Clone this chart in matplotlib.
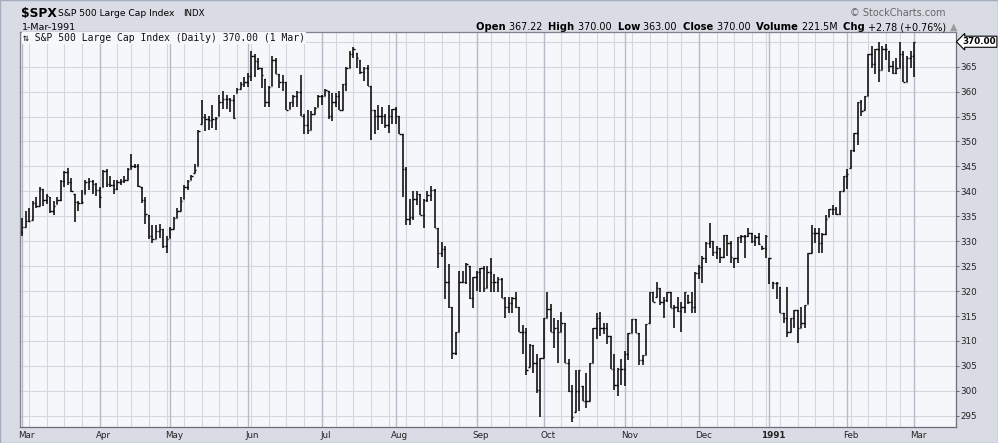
import numpy as np
import pandas as pd
import matplotlib
matplotlib.use('Agg')
import matplotlib.pyplot as plt
from matplotlib.patches import Rectangle

# trading days, 1-Mar-1990 .. 1-Mar-1991
holidays = ['1990-04-13', '1990-05-28', '1990-07-04', '1990-09-03',
            '1990-11-22', '1990-12-25', '1991-01-01', '1991-02-18']
dates = pd.bdate_range('1990-03-01', '1991-03-01')
dates = dates[~dates.isin(pd.to_datetime(holidays))]

# daily OHLC, month by month (Mar 90 ... Mar 91)
opens = [
    331.9, 332.8, 334.0, 334.2, 337.7, 337.0, 340.5, 338.2, 338.8, 336.1, 337.4, 338.2, 342.1, 343.8, 341.8, 339.5, 337.9, 337.6, 339.5, 341.8, 342.1, 341.5,
    340.3, 340.9, 344.0, 341.4, 341.3, 340.5, 341.8, 342.1, 342.3, 344.5, 345.1, 345.1, 340.9, 338.2, 335.3, 331.1, 330.4, 332.1, 332.5, 329.0,
    330.7, 332.5, 334.6, 336.0, 338.4, 340.9, 342.3, 343.7, 345.1, 353.5, 355.0, 354.5, 354.3, 354.5, 355.2, 358.0, 358.5, 358.5, 358.4, 359.8, 360.5, 361.5,
    362.0, 363.2, 367.1, 366.2, 364.7, 362.6, 358.0, 361.2, 366.4, 363.6, 361.9, 361.9, 356.6, 357.9, 359.1, 359.9, 355.2, 353.3, 352.4, 355.6, 357.0,
    359.1, 359.2, 360.1, 355.2, 358.0, 359.1, 356.3, 361.5, 364.7, 367.5, 367.8, 366.4, 364.0, 364.7, 361.2, 356.3, 355.2, 355.2, 355.2, 353.3, 355.2,
    356.6, 355.2, 351.4, 344.5, 334.4, 334.8, 338.4, 339.4, 335.3, 338.3, 339.3, 340.3, 332.6, 327.7, 328.5, 321.8, 316.8, 307.5, 311.7, 321.8, 321.8, 325.1, 318.7,
    322.8, 323.8, 324.7, 320.6, 323.8, 321.8, 321.8, 322.5, 318.7, 316.8, 317.7, 318.7, 316.8, 311.7, 311.7, 304.8, 309.1, 305.6, 300.1,
    306.6, 314.6, 316.4, 311.7, 312.6, 311.7, 313.6, 305.6, 300.0, 295.7, 300.0, 300.9, 297.9, 297.9, 305.5, 312.6, 314.6, 312.5, 312.6, 311.0, 304.3, 301.1, 304.3,
    304.3, 307.4, 311.5, 314.5, 311.5, 306.2, 307.2, 313.6, 319.8, 318.9, 320.6, 317.9, 318.2, 319.8, 316.6, 316.9, 316.0, 316.9, 319.2, 317.9, 316.9,
    323.6, 324.9, 326.7, 329.6, 330.0, 327.8, 328.7, 326.9, 331.3, 329.6, 326.7, 326.7, 330.8, 331.1, 331.1, 331.6, 330.0, 330.8, 329.0, 328.7,
    326.7, 321.8, 321.7, 320.8, 315.6, 314.6, 311.7, 314.6, 316.2, 312.6, 313.6, 317.5, 327.7, 331.6, 331.6, 329.6, 331.5, 334.9, 336.5, 336.5, 335.4, 340.1,
    343.0, 344.7, 348.2, 351.7, 358.0, 356.3, 359.1, 367.5, 365.5, 368.5, 364.3, 368.5, 368.2, 365.2, 363.8, 364.8, 367.5, 361.9, 366.8,
    367.22,
]
highs = [
    334.6, 336.0, 336.7, 338.1, 338.9, 340.9, 340.5, 339.5, 338.8, 338.1, 338.8, 342.3, 344.0, 344.7, 342.6, 339.5, 338.1, 340.2, 342.3, 342.6, 342.3, 341.6,
    340.9, 344.2, 344.4, 343.0, 342.3, 342.3, 342.4, 343.0, 344.7, 347.5, 345.4, 345.4, 340.9, 338.8, 335.3, 333.2, 333.2, 333.5, 332.5, 331.1,
    332.8, 334.9, 336.7, 338.8, 341.2, 342.3, 343.3, 345.4, 352.4, 358.4, 355.6, 355.2, 357.3, 354.9, 359.4, 360.1, 359.4, 358.7, 359.4, 360.8, 362.0, 363.0,
    363.8, 368.2, 367.5, 366.8, 364.7, 362.6, 361.2, 367.1, 366.8, 363.6, 363.3, 361.9, 358.0, 359.4, 360.1, 363.4, 355.6, 356.4, 356.1, 357.0, 359.4,
    359.4, 360.5, 360.1, 359.8, 359.8, 360.1, 361.5, 365.0, 368.2, 369.0, 367.8, 366.4, 365.0, 365.4, 361.2, 356.3, 357.3, 357.0, 355.6, 357.3, 356.6,
    357.0, 355.2, 351.4, 344.9, 338.5, 340.1, 340.1, 339.4, 338.5, 340.1, 341.1, 340.4, 332.6, 329.8, 329.0, 325.4, 316.9, 311.7, 324.1, 324.1, 325.7, 325.1, 322.8,
    324.1, 324.7, 325.1, 325.1, 326.7, 323.4, 322.8, 322.6, 318.9, 318.9, 318.9, 319.8, 316.9, 313.3, 312.6, 309.4, 309.1, 307.4, 306.6,
    314.6, 319.8, 317.5, 314.6, 314.3, 315.9, 313.6, 306.4, 301.2, 304.2, 304.2, 300.9, 303.5, 305.5, 312.6, 315.6, 315.9, 313.6, 313.6, 311.0, 307.4, 304.5, 306.4,
    308.0, 311.5, 314.5, 314.5, 311.5, 307.2, 313.5, 319.8, 319.8, 321.8, 320.6, 318.9, 319.8, 319.8, 317.2, 318.9, 317.9, 319.8, 319.2, 319.8, 323.8,
    325.3, 327.0, 329.8, 333.6, 330.0, 329.0, 328.7, 331.3, 331.3, 330.0, 326.7, 330.9, 331.3, 331.3, 332.6, 331.6, 331.3, 331.6, 329.0, 331.3,
    326.7, 321.8, 321.8, 320.8, 315.6, 320.8, 314.6, 316.2, 316.2, 316.9, 317.2, 327.7, 333.2, 332.6, 332.6, 331.6, 335.2, 336.5, 337.2, 336.8, 340.1, 343.0,
    344.4, 348.2, 351.7, 358.0, 358.4, 359.1, 367.5, 369.2, 368.5, 369.9, 369.2, 369.6, 368.2, 366.1, 366.8, 369.9, 368.2, 367.1, 368.2,
    370.0,
]
lows = [
    331.1, 332.8, 333.9, 334.2, 336.7, 337.0, 337.0, 337.4, 335.6, 335.3, 337.4, 338.1, 340.9, 341.2, 339.8, 333.9, 336.0, 337.4, 339.5, 340.2, 339.5, 339.1,
    336.7, 340.9, 340.9, 340.9, 339.5, 340.2, 341.2, 341.6, 342.3, 344.4, 344.7, 340.9, 337.7, 333.5, 330.4, 329.7, 330.4, 330.7, 328.6, 327.6,
    330.7, 332.5, 334.6, 336.0, 338.4, 340.2, 342.3, 343.7, 345.1, 353.5, 352.1, 352.4, 352.8, 352.4, 355.2, 356.6, 356.6, 355.9, 354.5, 359.8, 360.5, 360.9,
    360.9, 362.2, 363.0, 364.3, 360.8, 357.0, 357.0, 361.2, 363.6, 360.8, 360.1, 356.3, 356.6, 357.0, 357.0, 355.2, 351.4, 351.4, 352.4, 355.6, 357.0,
    357.3, 359.1, 354.5, 354.2, 357.0, 356.3, 356.3, 360.1, 364.7, 366.8, 364.7, 363.6, 362.2, 361.2, 350.3, 351.4, 352.4, 353.5, 352.8, 351.7, 353.5,
    353.5, 351.4, 338.8, 333.3, 333.2, 334.2, 337.2, 335.2, 332.6, 337.8, 338.1, 332.6, 324.7, 326.8, 318.5, 316.6, 306.4, 307.1, 311.7, 321.8, 321.5, 318.5, 316.6,
    320.0, 319.8, 319.8, 320.6, 319.8, 319.8, 319.8, 318.7, 314.6, 315.6, 315.6, 316.7, 311.7, 307.4, 303.2, 304.8, 303.5, 299.6, 294.7,
    306.6, 314.6, 311.7, 308.5, 305.5, 311.7, 305.5, 299.7, 293.7, 295.7, 296.0, 297.9, 296.6, 297.9, 305.5, 310.4, 311.0, 311.3, 309.4, 304.3, 300.1, 298.9, 301.2,
    301.0, 306.2, 311.5, 311.5, 305.2, 305.2, 307.2, 313.6, 317.9, 318.9, 317.2, 314.6, 317.9, 316.6, 312.6, 315.9, 311.7, 315.6, 317.5, 315.6, 315.6,
    322.5, 321.7, 325.7, 328.7, 327.0, 326.4, 325.7, 326.7, 327.0, 325.7, 324.7, 325.7, 329.6, 326.7, 330.9, 329.6, 329.0, 329.3, 328.3, 326.7,
    321.5, 320.5, 318.5, 315.6, 313.6, 310.7, 311.7, 312.6, 309.5, 312.6, 312.6, 317.5, 327.7, 329.6, 327.7, 327.7, 331.3, 334.9, 335.2, 335.2, 335.2, 340.1,
    340.5, 344.7, 347.9, 349.3, 355.2, 356.3, 359.1, 364.7, 363.6, 361.9, 364.3, 366.4, 364.0, 363.6, 363.6, 364.7, 361.9, 361.9, 364.7,
    363.0,
]
closes = [
    332.8, 334.0, 334.0, 337.7, 337.0, 340.5, 338.2, 339.1, 336.1, 337.0, 338.2, 342.1, 343.8, 341.8, 340.0, 337.9, 337.6, 337.8, 341.8, 342.1, 341.5, 340.3,
    338.9, 344.0, 341.4, 341.3, 340.5, 341.8, 342.1, 342.3, 344.5, 345.1, 345.1, 341.0, 338.2, 335.4, 331.1, 330.4, 332.1, 332.5, 329.0, 330.4,
    332.5, 334.6, 336.0, 338.1, 340.9, 342.1, 343.1, 344.2, 352.2, 355.0, 354.5, 354.3, 354.5, 354.7, 358.0, 358.5, 358.5, 358.4, 354.7, 360.5, 361.5, 362.0,
    363.2, 367.1, 366.2, 364.7, 363.3, 358.0, 361.0, 366.4, 363.6, 361.9, 361.9, 356.3, 357.9, 359.1, 359.9, 355.2, 353.3, 352.4, 355.6, 356.8, 359.1,
    359.2, 360.3, 355.2, 358.0, 359.1, 356.3, 361.5, 364.7, 367.5, 368.5, 366.8, 364.0, 364.7, 361.2, 356.3, 355.2, 355.2, 355.2, 353.3, 355.2, 356.6,
    355.2, 351.4, 344.5, 334.4, 334.8, 338.4, 339.4, 335.3, 338.3, 339.3, 340.3, 332.7, 327.7, 328.5, 321.8, 316.8, 307.5, 311.7, 321.8, 321.8, 325.4, 318.7, 322.8,
    323.8, 324.7, 320.6, 323.8, 321.8, 321.8, 322.5, 318.7, 316.8, 317.7, 318.7, 316.8, 311.7, 311.7, 304.2, 309.2, 305.6, 300.1, 306.6,
    314.6, 316.4, 311.7, 312.6, 311.7, 313.6, 305.6, 300.0, 294.7, 300.0, 304.2, 297.9, 297.9, 305.5, 312.6, 314.6, 312.5, 312.6, 311.0, 304.3, 301.1, 304.3, 304.3,
    307.4, 311.5, 314.5, 311.5, 306.2, 307.2, 313.5, 319.8, 317.9, 320.6, 317.9, 318.2, 319.8, 316.6, 316.9, 316.0, 316.9, 319.8, 317.9, 316.9, 323.6,
    324.9, 326.7, 329.6, 330.0, 327.8, 328.7, 326.9, 331.3, 329.6, 326.9, 326.7, 330.8, 331.1, 331.1, 331.7, 330.0, 330.8, 329.5, 328.7, 331.1,
    326.7, 321.7, 321.7, 315.6, 314.6, 311.7, 314.6, 316.2, 312.6, 313.6, 317.2, 327.7, 331.6, 331.6, 329.6, 331.5, 334.5, 336.5, 336.5, 335.4, 340.1, 343.0,
    343.5, 348.2, 351.7, 358.0, 356.1, 359.1, 367.5, 365.5, 368.5, 364.3, 368.5, 368.5, 365.2, 363.8, 364.8, 367.5, 361.9, 366.8, 367.2,
    370.0,
]

price_ticks = [295, 300, 305, 310, 315, 320, 325, 330, 335, 340, 345, 350, 355, 360, 365]
month_names = ['Mar', 'Apr', 'May', 'Jun', 'Jul', 'Aug', 'Sep', 'Oct', 'Nov', 'Dec', '1991', 'Feb', 'Mar']

W, H = 998, 443
BG = '#d9dce4'
fig = plt.figure(figsize=(W / 100, H / 100), dpi=100, facecolor=BG)
ax = fig.add_axes([20 / W, 16 / H, 936 / W, 395 / H])
ax.set_facecolor('#f6f7fb')

x = np.arange(len(closes))
ax.set_xlim(-0.57, 264.9)
ax.set_ylim(292.75, 371.95)

# grid: horizontal every 5, weekly light / monthly darker verticals
for p in range(295, 371, 5):
    ax.axhline(p, color='#d4d7e0', lw=0.8, zorder=0)
month_idx = [i for i in range(len(dates)) if i == 0 or dates[i].month != dates[i - 1].month]
week_idx = [i for i in range(1, len(dates)) if dates[i].weekday() < dates[i - 1].weekday()]
for i in week_idx:
    ax.axvline(i, color='#d4d7e0', lw=0.8, zorder=0)
for i in month_idx:
    ax.axvline(i, color='#b7bbc7', lw=1.0, zorder=0)

# OHLC bars
ax.vlines(x, lows, highs, color='black', lw=1.1, zorder=3)
ax.hlines(opens, x - 0.4, x, color='black', lw=1.0, zorder=3)
ax.hlines(closes, x, x + 0.4, color='black', lw=1.0, zorder=3)

# axes frame
for side in ['left', 'top']:
    ax.spines[side].set_color('#7d828e')
    ax.spines[side].set_linewidth(0.9)
for side in ['right', 'bottom']:
    ax.spines[side].set_color('#6b6f78')
    ax.spines[side].set_linestyle((0, (1, 1)))
    ax.spines[side].set_linewidth(0.9)

ax.yaxis.tick_right()
ax.set_yticks(price_ticks)
ax.set_yticklabels([str(p) for p in price_ticks], fontsize=6.3, color='#222222')
ax.tick_params(axis='y', length=2, width=0.6, pad=1, color='#555555')

ax.set_xticks([i + 1.2 for i in month_idx])
ax.set_xticklabels(month_names, fontsize=6.3, color='#222222')
ax.tick_params(axis='x', length=0, pad=3)
for lab in ax.get_xticklabels():
    if lab.get_text() == '1991':
        lab.set_fontweight('bold')

# last price marker on the right axis
ax.annotate('370.00', xy=(1.0, closes[-1]), xycoords=('axes fraction', 'data'),
            xytext=(4.5, 0), textcoords='offset points', va='center', ha='left',
            fontsize=6.3, fontweight='bold', color='black',
            bbox=dict(boxstyle='larrow,pad=0.12', fc='white', ec='black', lw=0.8),
            annotation_clip=False, zorder=6)

# legend strip in the plot
ax.text(0.003, 0.997, '\u21c5 S&P 500 Large Cap Index (Daily) 370.00 (1 Mar)',
        transform=ax.transAxes, va='top', ha='left', fontsize=7,
        family=['DejaVu Sans Mono', 'DejaVu Sans'], color='#111111', zorder=5,
        bbox=dict(boxstyle='square,pad=0.12', fc='#f6f7fb', ec='none'))

# header
def fy(py):
    return 1 - py / H

fig.text(21 / W, fy(13), r'\$SPX', fontsize=8.8, fontweight='bold', va='center', ha='left')
fig.text(58 / W, fy(13), 'S&P 500 Large Cap Index', fontsize=6.6, va='center', ha='left')
fig.text(183 / W, fy(13), 'INDX', fontsize=6.2, va='center', ha='left')
fig.text(22 / W, fy(27), '1-Mar-1991', fontsize=6.8, va='center', ha='left')
fig.text(945 / W, fy(13), '\u00a9 StockCharts.com', fontsize=7, color='#666666', va='center', ha='right')

parts = [('Open ', True, 'black'), ('367.22  ', False, 'black'),
         ('High ', True, 'black'), ('370.00  ', False, 'black'),
         ('Low ', True, 'black'), ('363.00  ', False, 'black'),
         ('Close ', True, 'black'), ('370.00  ', False, 'black'),
         ('Volume ', True, 'black'), ('221.5M  ', False, 'black'),
         ('Chg ', True, 'black'), ('+2.78 (+0.76%) ', False, 'black'),
         ('\u25b2', False, '#9a9a9a')]
renderer = fig.canvas.get_renderer()
objs, widths = [], []
for s, bold, col in parts:
    t = fig.text(0, fy(27), s, fontsize=7.2 if bold else 6.9,
                 fontweight='bold' if bold else 'normal', color=col,
                 va='center', ha='left')
    objs.append(t)
    widths.append(t.get_window_extent(renderer).width)
xpos = 957 - sum(widths)
for t, w in zip(objs, widths):
    t.set_x(xpos / W)
    xpos += w

fig.patches.append(Rectangle((0, 0), 1, 1, transform=fig.transFigure, fill=False,
                             ec='#a3adbd', lw=1.0))

fig.savefig('out.png', dpi=100, facecolor=BG)
